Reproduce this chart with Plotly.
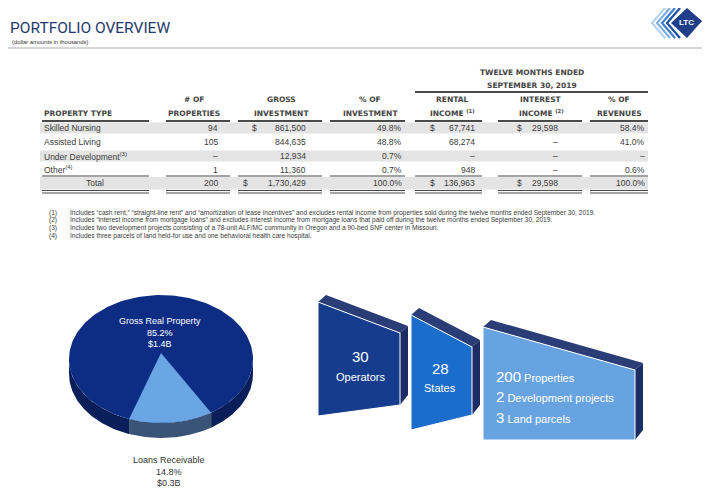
import numpy as np
import plotly.graph_objects as go

# table data (dollar amounts in thousands)
property_types = ["Skilled Nursing", "Assisted Living", "Under Development<sup>(3)</sup>",
                  "Other<sup>(4)</sup>", "Total"]
properties = ["94", "105", "–", "1", "200"]
gross_investment = ["861,500", "844,635", "12,934", "11,360", "1,730,429"]
pct_investment = ["49.8%", "48.8%", "0.7%", "0.7%", "100.0%"]
rental_income = ["67,741", "68,274", "–", "948", "136,963"]
interest_income = ["29,598", "–", "–", "–", "29,598"]
pct_revenues = ["58.4%", "41.0%", "–", "0.6%", "100.0%"]

footnotes = [
    "Includes “cash rent,” “straight-line rent” and “amortization of lease incentives” and excludes rental income "
    "from properties sold during the twelve months ended September 30, 2019.",
    "Includes “interest income from mortgage loans” and excludes interest income from mortgage loans that paid off "
    "during the twelve months ended September 30, 2019.",
    "Includes two development projects consisting of a 78-unit ALF/MC community in Oregon and a 90-bed SNF center in Missouri.",
    "Includes three parcels of land held-for use and one behavioral health care hospital.",
]

# pie data
pie_labels = ["Gross Real Property", "Loans Receivable"]
pie_shares = [85.2, 14.8]
pie_amounts = ["$1.4B", "$0.3B"]

# infographic blocks
block_numbers = ["30", "28"]
block_words = ["Operators", "States"]
portfolio_counts = ["200", "2", "3"]
portfolio_items = ["Properties", "Development projects", "Land parcels"]

NAVY = "#1f3a6e"
TXT = "#3a3a3a"
FONT = "Liberation Sans, Arial"
HFONT = "DejaVu Sans"
OFF = 8  # page body margin of the html page

fig = go.Figure()
shapes = []
ann = []


def text(x, y, s, size=8, color=TXT, anchor="center", family=FONT, weight="normal"):
    ann.append(dict(x=x, y=y, text=s, showarrow=False, xanchor=anchor, yanchor="middle",
                    font=dict(size=size, color=color, family=family, weight=weight)))


def hline(x0, x1, y, width=1.5, color="#4a4a4a"):
    shapes.append(dict(type="line", x0=x0, x1=x1, y0=y, y1=y, line=dict(color=color, width=width), layer="above"))


# ---- title ----
text(8, 28, "PORTFOLIO OVERVIEW", size=15.5, color=NAVY, anchor="left", family="Roboto")
text(10, 41.5, "(dollar amounts in thousands)", size=5.8, color="#333", anchor="left")
hline(4, 702, 48, width=1.5, color="#c8c8c8")

# ---- logo ----
for i, c in enumerate(["#1b4f9c", "#3f7fc8", "#7fb0e0", "#b6d3ef"]):
    x = 667 - i * 5
    shapes.append(dict(type="path", path=f"M {x + 13},8 L {x},23 L {x + 13},38",
                       line=dict(color=c, width=2.2)))
shapes.append(dict(type="path", path="M 671,23 L 687,8 L 702,21 L 687,38 Z",
                   fillcolor="#1f3f8a", line=dict(width=0)))
text(686.5, 22.5, "LTC", size=8, color="white", weight="bold")

# ---- table ----
cols = {  # name: (x0, x1)
    "type": (42, 149), "props": (166, 230), "gross": (238, 322), "pinv": (330, 405),
    "rent": (415, 482), "int": (498, 582), "prev": (590, 648),
}
row_y = [128, 142, 156, 169.5, 183]

# grey bands
for i in (0, 2):
    shapes.append(dict(type="rect", x0=40, x1=648, y0=row_y[i] - 5.5, y1=row_y[i] + 5.5,
                       fillcolor="#e4e4e4", line=dict(width=0), layer="below"))
shapes.append(dict(type="rect", x0=40, x1=648, y0=177, y1=189.5,
                   fillcolor="#e4e4e4", line=dict(width=0), layer="below"))

HC = "#444"
text(532, 72, "TWELVE MONTHS ENDED", size=7.5, family=HFONT, weight="bold", color=HC)
text(532, 85, "SEPTEMBER 30, 2019", size=7.5, family=HFONT, weight="bold", color=HC)
hline(415, 648, 92, width=2)

headers = [("type", "", "PROPERTY TYPE", 42), ("props", "# OF", "PROPERTIES", 194),
           ("gross", "GROSS", "INVESTMENT", 281), ("pinv", "% OF", "INVESTMENT", 370),
           ("rent", "RENTAL", "INCOME <sup>(1)</sup>", 452), ("int", "INTEREST", "INCOME <sup>(2)</sup>", 541),
           ("prev", "% OF", "REVENUES", 619)]
for key, h1, h2, hx in headers:
    anchor = "left" if key == "type" else "center"
    if h1:
        text(hx, 99, h1, size=7.5, family=HFONT, weight="bold", anchor=anchor, color=HC)
    text(hx, 113, h2, size=7.5, family=HFONT, weight="bold", anchor=anchor, color=HC)
    x0, x1 = cols[key]
    hline(x0, x1, 121, width=2)
    hline(x0, x1, 176, width=1.2)
    hline(x0, x1, 190.5, width=1.2)
    hline(x0, x1, 193, width=1.2)

for i, y in enumerate(row_y):
    if i < 4:
        text(42, y, property_types[i], anchor="left", size=8.5)
    else:
        text(95, y, property_types[i], size=8.5)
    text(220, y, properties[i], anchor="right", size=8.5)
    text(308, y, gross_investment[i], anchor="right", size=8.5)
    text(404, y, pct_investment[i], anchor="right", size=8.5)
    text(477, y, rental_income[i], anchor="right", size=8.5)
    text(560, y, interest_income[i], anchor="right", size=8.5)
    text(647, y, pct_revenues[i], anchor="right", size=8.5)
    if i in (0, 4):
        text(254 if i == 0 else 245, y, "$", size=8.5)
        text(432, y, "$", size=8.5)
        text(519, y, "$", size=8.5)

for i, note in enumerate(footnotes):
    y = 212.5 + i * 7.7
    text(47, y, f"({i + 1})", size=6.6, anchor="left")
    text(68, y, note, size=6.6, anchor="left")

# ---- 3D pie ----
cx, cy, rx, ry, depth = 161, 359, 92, 64, 15
start = 57.0
light_span = 360 * pie_shares[1] / sum(pie_shares)
dark_c, light_c = "#0d2d84", "#6aa6e3"
dark_side, light_side = "#0a1f5a", "#3a5478"


def arc(a0, a1, n=80):
    t = np.radians(np.linspace(a0, a1, n))
    return cx + rx * np.cos(t), cy + ry * np.sin(t)


def side(a0, a1, color):
    ax, ay = arc(a0, a1)
    xs = np.concatenate([ax, ax[::-1]])
    ys = np.concatenate([ay, ay[::-1] + depth])
    fig.add_trace(go.Scatter(x=xs, y=ys, fill="toself", fillcolor=color, mode="lines",
                             line=dict(width=0), hoverinfo="skip"))


side(0, start, dark_side)
side(start, start + light_span, light_side)
side(start + light_span, 180, dark_side)

ex, ey = arc(0, 360, 200)
fig.add_trace(go.Scatter(x=ex, y=ey, fill="toself", fillcolor=dark_c, mode="lines",
                         line=dict(width=0), hoverinfo="skip"))
sx, sy = arc(start, start + light_span)
fig.add_trace(go.Scatter(x=np.concatenate([[cx], sx, [cx]]), y=np.concatenate([[cy - 6], sy, [cy - 6]]),
                         fill="toself", fillcolor=light_c, mode="lines", line=dict(width=0), hoverinfo="skip"))

text(160, 332, f"{pie_labels[0]}<br>{pie_shares[0]:.1f}%<br>{pie_amounts[0]}", size=9, color="white")
text(169, 471, f"{pie_labels[1]}<br>{pie_shares[1]:.1f}%<br>{pie_amounts[1]}", size=9, color="#333")

# ---- blocks ----
TOP = "#2a3d77"
SIDE = "#1c2d66"
blocks = [  # front polygon corners and front colour
    ((318, 302), (400, 333), (400, 405), (318, 416), "#163c8e"),
    ((411, 315), (472, 347), (472, 415), (411, 430), "#1b6dcc"),
    ((483, 327), (635, 370), (635, 440), (483, 440), "#68a3e1"),
]
dx, dy = 8, -7
for (tl, tr, br, bl, col) in blocks:
    shapes.append(dict(type="path", line=dict(width=0), fillcolor=TOP,
                       path=f"M {tl[0]},{tl[1]} L {tl[0] + dx},{tl[1] + dy} L {tr[0] + dx},{tr[1] + dy} L {tr[0]},{tr[1]} Z"))
    shapes.append(dict(type="path", line=dict(width=0), fillcolor=SIDE,
                       path=f"M {tr[0]},{tr[1]} L {tr[0] + dx},{tr[1] + dy} L {br[0] + dx},{br[1] + dy - 3} L {br[0]},{br[1]} Z"))
    shapes.append(dict(type="path", line=dict(color="white", width=1), fillcolor=col,
                       path=f"M {tl[0]},{tl[1]} L {tr[0]},{tr[1]} L {br[0]},{br[1]} L {bl[0]},{bl[1]} Z"))

text(360, 356, block_numbers[0], size=15, color="white")
text(360, 377, block_words[0], size=11, color="white")
text(440, 368, block_numbers[1], size=15, color="white")
text(440, 388, block_words[1], size=11, color="white")
for i, (n, w) in enumerate(zip(portfolio_counts, portfolio_items)):
    ann.append(dict(x=494, y=376 + i * 20.5, xanchor="left", yanchor="middle", showarrow=False,
                    text=f"<span style='font-size:15px'>{n}</span> {w}",
                    font=dict(size=11, color="white", family=FONT)))

fig.update_layout(
    width=710, height=502, margin=dict(l=0, r=0, t=0, b=0),
    paper_bgcolor="white", plot_bgcolor="white", showlegend=False,
    xaxis=dict(range=[OFF, 710 + OFF], visible=False, fixedrange=True),
    yaxis=dict(range=[502 + OFF, OFF], visible=False, fixedrange=True),
    shapes=shapes, annotations=ann,
)
fig.write_html("out.html")
